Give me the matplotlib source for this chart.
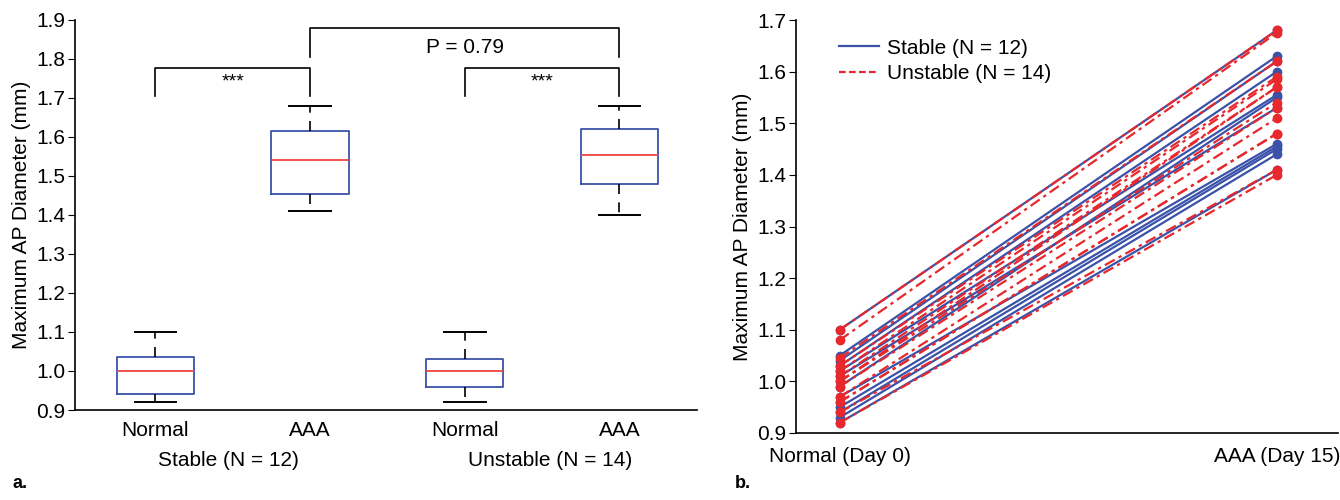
import matplotlib
matplotlib.use("Agg")
import matplotlib.pyplot as plt
from matplotlib import font_manager
from matplotlib.lines import Line2D

fams = {f.name for f in font_manager.fontManager.ttflist}
FONT = ['Liberation Sans Narrow'] if 'Liberation Sans Narrow' in fams else ['Liberation Sans']
plt.rcParams['font.family'] = FONT + ['DejaVu Sans']

# ---------------- data ----------------
box_labels = ["Normal", "AAA", "Normal", "AAA"]
group_labels = ["Stable (N = 12)", "Unstable (N = 14)"]
box_whislo = [0.92, 1.41, 0.92, 1.40]
box_q1 = [0.94, 1.455, 0.96, 1.48]
box_med = [1.00, 1.54, 1.00, 1.555]
box_q3 = [1.035, 1.615, 1.03, 1.62]
box_whishi = [1.10, 1.68, 1.10, 1.68]

time_labels = ["Normal (Day 0)", "AAA (Day 15)"]
stable_day0 = [1.10, 1.05, 1.04, 1.03, 1.02, 0.99, 1.01, 0.97, 0.95, 0.94, 0.93, 0.92]
stable_day15 = [1.68, 1.63, 1.62, 1.60, 1.555, 1.55, 1.53, 1.46, 1.455, 1.45, 1.44, 1.41]
unstable_day0 = [1.10, 1.08, 1.045, 1.03, 1.02, 1.01, 1.00, 1.00, 0.99, 0.97, 0.96, 0.96, 0.94, 0.92]
unstable_day15 = [1.68, 1.675, 1.62, 1.59, 1.585, 1.57, 1.57, 1.54, 1.53, 1.51, 1.48, 1.48, 1.41, 1.40]
p_text = "P = 0.79"
sig_text = "***"

BLUE = "#3a52a8"
RED = "#e8282c"
MED = "#f0463f"
FS = 15

fig = plt.figure(figsize=(13.4, 5.0), dpi=100)

# ---------------- panel a ----------------
axa = fig.add_axes([0.056, 0.18, 0.464, 0.78])
stats = []
for i in range(4):
    stats.append(dict(whislo=box_whislo[i], q1=box_q1[i], med=box_med[i],
                      q3=box_q3[i], whishi=box_whishi[i], fliers=[], label=box_labels[i]))
pos = [1, 2, 3, 4]
axa.bxp(stats, positions=pos, widths=0.5, capwidths=0.27, showfliers=False,
        boxprops=dict(color=BLUE, linewidth=1.3),
        medianprops=dict(color=MED, linewidth=1.3),
        whiskerprops=dict(color="black", linewidth=1.2, linestyle=(0, (6, 5))),
        capprops=dict(color="black", linewidth=1.4))
axa.set_xlim(0.48, 4.5)
axa.set_ylim(0.9, 1.9)
axa.set_yticks([0.9 + 0.1 * k for k in range(11)])
axa.set_yticklabels([f"{0.9 + 0.1 * k:.1f}" for k in range(11)])
axa.set_xticks(pos)
axa.set_xticklabels(box_labels)
axa.tick_params(axis='x', length=0, labelsize=FS, pad=8)
axa.tick_params(axis='y', direction='out', length=5, labelsize=FS, pad=2)
for s in ['top', 'right']:
    axa.spines[s].set_visible(False)
axa.spines['left'].set_linewidth(1.2)
axa.spines['bottom'].set_linewidth(1.2)
axa.set_ylabel("Maximum AP Diameter (mm)", fontsize=FS, labelpad=4)

# group labels
for xg, lab in zip([1.47, 3.55], group_labels):
    axa.text(xg, -0.105, lab, transform=axa.get_xaxis_transform(), ha='center',
             va='top', fontsize=FS)

# brackets
def bracket(x1, x2, ylow, ytop, txt, ytxt, fs):
    axa.plot([x1, x1, x2, x2], [ylow, ytop, ytop, ylow], color='black', lw=1.2,
             clip_on=False)
    axa.text((x1 + x2) / 2, ytxt, txt, ha='center', va='center', fontsize=fs)

bracket(1, 2, 1.705, 1.777, sig_text, 1.740, 14)
bracket(3, 4, 1.705, 1.777, sig_text, 1.740, 14)
bracket(2, 4, 1.805, 1.88, p_text, 1.83, FS)

fig.text(0.009, 0.015, "a.", fontsize=13, fontweight='bold', ha='left', va='bottom')

# ---------------- panel b ----------------
axb = fig.add_axes([0.594, 0.134, 0.4045, 0.826])
xs = [0, 1]
for k in range(len(stable_day0)):
    axb.plot(xs, [stable_day0[k], stable_day15[k]], color=BLUE, lw=1.6,
             marker='o', markersize=6)
for k in range(len(unstable_day0)):
    axb.plot(xs, [unstable_day0[k], unstable_day15[k]], color=RED, lw=1.6,
             linestyle=(0, (5, 2, 1.5, 2)), marker='o', markersize=6)
axb.set_xlim(-0.1, 1.14)
axb.set_ylim(0.9, 1.7)
axb.set_yticks([0.9 + 0.1 * k for k in range(9)])
axb.set_yticklabels([f"{0.9 + 0.1 * k:.1f}" for k in range(9)])
axb.set_xticks(xs)
axb.set_xticklabels(time_labels)
axb.tick_params(axis='x', length=0, labelsize=FS, pad=10)
axb.tick_params(axis='y', direction='out', length=5, labelsize=FS, pad=2)
for s in ['top', 'right']:
    axb.spines[s].set_visible(False)
axb.spines['left'].set_linewidth(1.2)
axb.spines['bottom'].set_linewidth(1.2)
axb.set_ylabel("Maximum AP Diameter (mm)", fontsize=FS, labelpad=4)
hh = [Line2D([], [], color=BLUE, lw=1.6),
      Line2D([], [], color=RED, lw=1.6, linestyle=(0, (3, 1.5)))]
axb.legend(hh, group_labels, loc='upper left', bbox_to_anchor=(0.045, 1.0), frameon=False,
           fontsize=FS, handlelength=1.9, handletextpad=0.4, labelspacing=0.3)

fig.text(0.548, 0.015, "b.", fontsize=13, fontweight='bold', ha='left', va='bottom')

fig.savefig("out.png", dpi=100)
